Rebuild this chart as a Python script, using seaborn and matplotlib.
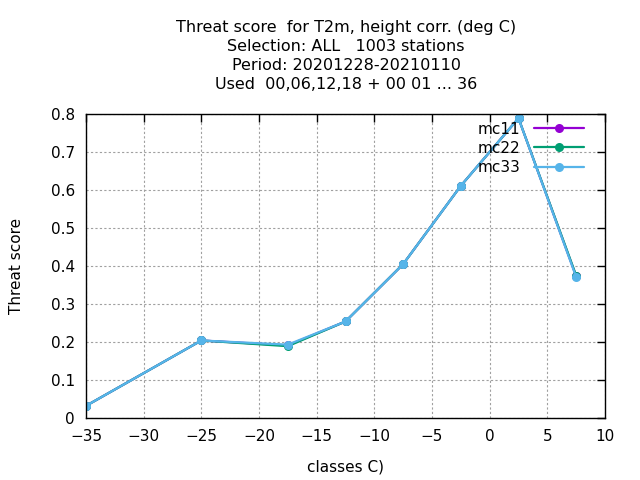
import matplotlib
matplotlib.use("Agg")
import matplotlib.pyplot as plt
import seaborn as sns
import pandas as pd
from matplotlib.ticker import MultipleLocator

classes = [-35, -25, -17.5, -12.5, -7.5, -2.5, 2.5, 7.5]
mc11 = [0.032, 0.204, 0.191, 0.254, 0.405, 0.611, 0.789, 0.373]
mc22 = [0.032, 0.204, 0.189, 0.254, 0.405, 0.611, 0.789, 0.375]
mc33 = [0.032, 0.204, 0.193, 0.254, 0.405, 0.611, 0.789, 0.371]
series = ["mc11", "mc22", "mc33"]
colors = ["#9400d3", "#009e73", "#56b4e9"]
title_lines = ["Threat score  for T2m, height corr. (deg C)",
               "Selection: ALL   1003 stations",
               "Period: 20201228-20210110",
               "Used  00,06,12,18 + 00 01 ... 36"]

sns.set_style("white")
plt.rcParams['font.family'] = ['DejaVu Sans']
plt.rcParams['text.color'] = 'black'
plt.rcParams['axes.labelcolor'] = 'black'

FS = 11

df = pd.DataFrame({"x": classes * 3,
                   "y": mc11 + mc22 + mc33,
                   "exp": sum([[s] * len(classes) for s in series], [])})

fig = plt.figure(figsize=(6.4, 4.8), dpi=100)
ax = fig.add_axes([86/640, 62/480, 519/640, 304/480])
sns.lineplot(data=df, x="x", y="y", hue="exp", palette=colors, marker="o",
             markersize=6.5, markeredgewidth=0, linewidth=1.6, ax=ax, legend=True)
ax.set_xlim(-35, 10)
ax.set_ylim(0, 0.8)
ax.xaxis.set_major_locator(MultipleLocator(5))
ax.yaxis.set_major_locator(MultipleLocator(0.1))
ax.set_yticklabels([f"{v:g}" for v in ax.get_yticks()])
ax.grid(True, color="#a0a0a0", linestyle=(0, (2, 2)), linewidth=0.8)
ax.tick_params(direction="in", length=6, width=1, top=True, right=True,
               labelsize=FS, pad=8, colors="black")
for s in ax.spines.values():
    s.set_color("black")
    s.set_linewidth(1)
ax.set_xlabel("classes C)", fontsize=FS, labelpad=11)
ax.set_ylabel("Threat score", fontsize=FS, labelpad=19)
fig.text(346/640, 1 - 20/480, "\n".join(title_lines), ha="center", va="top",
         fontsize=11.5, linespacing=1.32)
leg = ax.legend(loc="upper right", frameon=False, fontsize=FS, markerfirst=False,
                handlelength=3.3, borderaxespad=0.1, labelspacing=0.27,
                handletextpad=0.9, bbox_to_anchor=(0.975, 1.0))
for t in leg.get_texts():
    t.set_ha("right")
fig.savefig("out.png", dpi=100)
